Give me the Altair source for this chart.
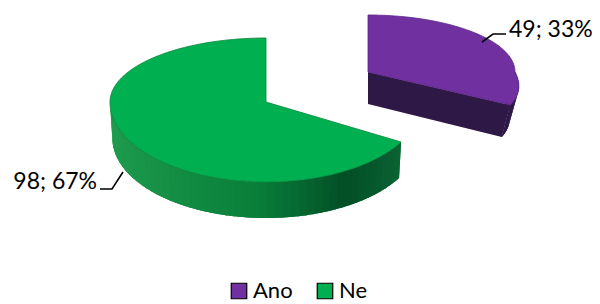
import math
import altair as alt

# ---- data ----
categories = ["Ano", "Ne"]
values = [49, 98]
colors = ["#7030A0", "#00B050"]

total = sum(values)
shares = [v / total for v in values]
labels = [f"{v}; {round(s * 100)}%" for v, s in zip(values, shares)]

# ---- layout (3D pie geometry, in page pixels) ----
# p: front widening (perspective), sb: horizontal shrink of the bottom rim
GEOM = {
    "Ano": dict(cx=368, cy=72, rx=147, ryb=57, ryf=66, d=32, p=0.236, sb=0.94),
    "Ne": dict(cx=266, cy=102, rx=156, ryb=64, ryf=80, d=36, p=0.0, sb=0.985),
}
LABEL_LAYOUT = {
    "Ano": dict(x=509, y=37, align="left", leader=[[482, 42], [493, 34], [506, 34]]),
    "Ne": dict(x=97, y=189, align="right", leader=[[123, 172], [112, 189], [100, 189]]),
}
SIDE_STOPS = {
    "Ne": [(120, (10, 100, 52)), (150, (3, 78, 38)), (185, (9, 128, 58)), (230, (24, 148, 72)), (270, (34, 158, 80))],
    "Ano": [(90, (52, 28, 80)), (120, (45, 24, 70))],
}
RADIAL_COLOR = {"Ano": "#2E1846", "Ne": "#03502a"}
EDGE_COLOR = {"Ano": "#5a2788", "Ne": "#08853e"}


def pt(g, t, dz=0.0):
    r = math.radians(t)
    c = math.cos(r)
    ry = g["ryb"] if c > 0 else g["ryf"]
    dx = g["rx"] * math.sin(r) * (1 + g["p"] * max(0.0, -c))
    if dz:
        dx *= g["sb"]
    return [g["cx"] + dx, g["cy"] - ry * c + dz]


def arc(g, a, b, dz=0.0, step=1.5):
    n = max(2, int(math.ceil(abs(b - a) / step)) + 1)
    return [pt(g, a + (b - a) * i / (n - 1), dz) for i in range(n)]


def shade(stops, t):
    for (t0, c0), (t1, c1) in zip(stops, stops[1:]):
        if t0 <= t <= t1:
            f = (t - t0) / (t1 - t0) if t1 > t0 else 0
            c = [round(c0[k] + (c1[k] - c0[k]) * f) for k in range(3)]
            return "#%02x%02x%02x" % tuple(c)
    c = stops[0][1] if t < stops[0][0] else stops[-1][1]
    return "#%02x%02x%02x" % tuple(c)


def poly(ring, **props):
    ring = ring + [ring[0]]
    return {"type": "Feature", "properties": props,
            "geometry": {"type": "Polygon", "coordinates": [ring]}}


side_feats, top_feats, leader_feats = [], [], []
start = 0.0
for cat, share in zip(categories, shares):
    g = GEOM[cat]
    a, b = start, start + share * 360
    start = b
    center = [g["cx"], g["cy"]]
    d = g["d"]
    # radial face at the end angle, visible when it faces the viewer
    if 90 <= b <= 180:
        p = pt(g, b)
        pb = pt(g, b, dz=d)
        side_feats.append(poly([center, p, pb, [center[0], center[1] + d]],
                               fill=RADIAL_COLOR[cat]))
    # visible outer wall: front half only
    lo, hi = max(a, 90), min(b, 270)
    if hi > lo:
        mid = shade(SIDE_STOPS[cat], (lo + hi) / 2)
        side_feats.append(poly(arc(g, lo, hi, step=0.8) + arc(g, hi, lo, dz=d, step=0.8), fill=mid))
        n = max(1, int(math.ceil((hi - lo) / 3.0)))
        w = (hi - lo) / n
        for i in range(n):
            t0 = max(lo, lo + w * i - 0.4)
            t1 = min(hi, lo + w * (i + 1) + 0.4)
            top = arc(g, t0, t1, step=0.8)
            bot = arc(g, t1, t0, dz=d, step=0.8)
            side_feats.append(poly(top + bot, fill=shade(SIDE_STOPS[cat], lo + w * (i + 0.5))))
    # top face
    top_feats.append(poly([center] + arc(g, a, b), name=cat, edge=EDGE_COLOR[cat]))
    leader_feats.append({"type": "Feature", "properties": {"name": cat},
                         "geometry": {"type": "LineString", "coordinates": LABEL_LAYOUT[cat]["leader"]}})

PROJ = dict(type="identity", scale=1, translate=[-8, -8])

sides = alt.Chart(alt.Data(values=side_feats)).mark_geoshape(strokeWidth=0).encode(
    fill=alt.Fill("properties.fill:N", scale=None),
).project(**PROJ)

tops = alt.Chart(alt.Data(values=top_feats)).mark_geoshape(strokeWidth=0.8).encode(
    color=alt.Color(
        "properties.name:N",
        scale=alt.Scale(domain=categories, range=colors),
        legend=alt.Legend(
            title=None, orient="none", direction="horizontal", legendX=220, legendY=272,
            symbolType="square", symbolSize=240, symbolStrokeColor="black", symbolStrokeWidth=1.2,
            labelFont="Lato", labelFontSize=22, labelColor="#000000", labelOffset=3,
            columnPadding=21, padding=0,
        ),
    ),
    stroke=alt.Stroke("properties.edge:N", scale=None),
).project(**PROJ)

leaders = alt.Chart(alt.Data(values=leader_feats)).mark_geoshape(
    filled=False, stroke="black", strokeWidth=1.6
).project(**PROJ)

text_layers = []
for cat, lab in zip(categories, labels):
    L = LABEL_LAYOUT[cat]
    text_layers.append(
        alt.Chart(alt.Data(values=[{"lon": L["x"], "lat": L["y"], "label": lab}]))
        .mark_text(align=L["align"], baseline="alphabetic", font="Lato", fontSize=23, color="black")
        .encode(longitude="lon:Q", latitude="lat:Q", text="label:N")
        .project(**PROJ)
    )

chart = alt.layer(sides, tops, leaders, *text_layers).properties(
    width=584, height=286, padding=0
).configure_view(stroke=None)

chart.save("out.html", embed_options={"renderer": "svg", "actions": False})
